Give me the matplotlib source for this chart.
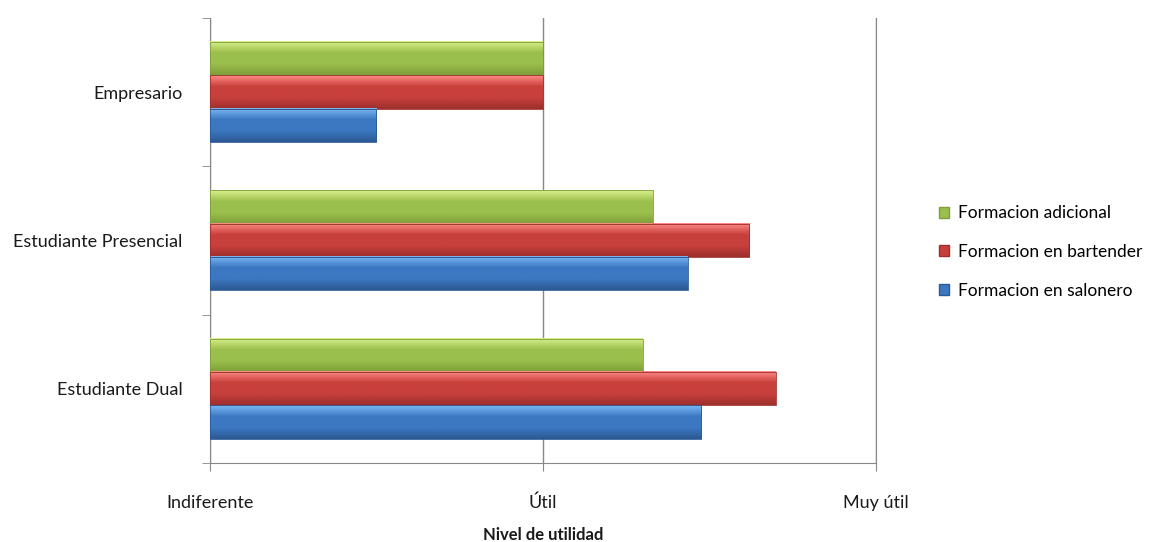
import matplotlib.pyplot as plt
import numpy as np
from matplotlib.colors import LinearSegmentedColormap
from matplotlib.patches import Patch

plt.rcParams['font.family'] = ['Lato', 'DejaVu Sans']

# datos
categorias = ['Empresario', 'Estudiante Presencial', 'Estudiante Dual']
adicional = [1.0, 1.33, 1.30]
bartender = [1.0, 1.62, 1.70]
salonero = [0.5, 1.435, 1.475]
niveles = ['Indiferente', 'Útil', 'Muy útil']

series = [
    ('Formacion adicional', adicional, ['#d8f08c', '#9bbf4c', '#7e9e3a']),
    ('Formacion en bartender', bartender, ['#ff8a86', '#c8403c', '#9e2f2c']),
    ('Formacion en salonero', salonero, ['#78b8f4', '#3c78c2', '#2c5a94']),
]

fig = plt.figure(figsize=(11.54, 5.42), dpi=100)
ax = fig.add_axes([0.182, 0.146, 0.577, 0.821])

h = 0.225
y = np.arange(len(categorias))
for k, (nombre, vals, cols) in enumerate(series):
    cmap = LinearSegmentedColormap.from_list(nombre, [cols[0], cols[1], cols[1], cols[2]])
    grad = np.linspace(0, 1, 50).reshape(-1, 1)
    for i, v in enumerate(vals):
        yc = y[i] + (k - 1) * h
        ax.imshow(grad, cmap=cmap, aspect='auto', extent=(0, v, yc + h / 2, yc - h / 2),
                  zorder=3, interpolation='bilinear')
        ax.barh(yc, v, height=h, color='none', edgecolor=cols[2], linewidth=0.6, zorder=4)

ax.set_xlim(0, 2)
ax.set_ylim(2.5, -0.5)
ax.set_xticks([0, 1, 2])
ax.set_xticklabels(niveles, fontsize=13)
ax.set_yticks(y)
ax.set_yticklabels(categorias, fontsize=13)
ax.set_yticks([-0.5, 0.5, 1.5, 2.5], minor=True)
ax.tick_params(axis='y', which='major', length=0, pad=20)
ax.tick_params(axis='y', which='minor', length=6, color='#888888', direction='out')
ax.tick_params(axis='x', length=6, color='#888888', direction='out', pad=17)
for t in ax.get_xticklabels() + ax.get_yticklabels():
    t.set_color('#1a1a1a')

ax.grid(axis='x', color='#888888', linewidth=1, zorder=0)
ax.spines['top'].set_visible(False)
for s in ['left', 'bottom', 'right']:
    ax.spines[s].set_color('#888888')

ax.set_xlabel('Nivel de utilidad', fontsize=12, fontweight='bold', labelpad=11, color='#1a1a1a')

handles = [Patch(facecolor=c[1], edgecolor=c[2], label=n) for n, _, c in series]
fig.legend(handles=handles, loc='center left', bbox_to_anchor=(0.8, 0.535), frameon=False,
           fontsize=12.5, handlelength=0.6, handleheight=0.6, handletextpad=0.5, labelspacing=1.3)

fig.savefig('out.png', dpi=100)
